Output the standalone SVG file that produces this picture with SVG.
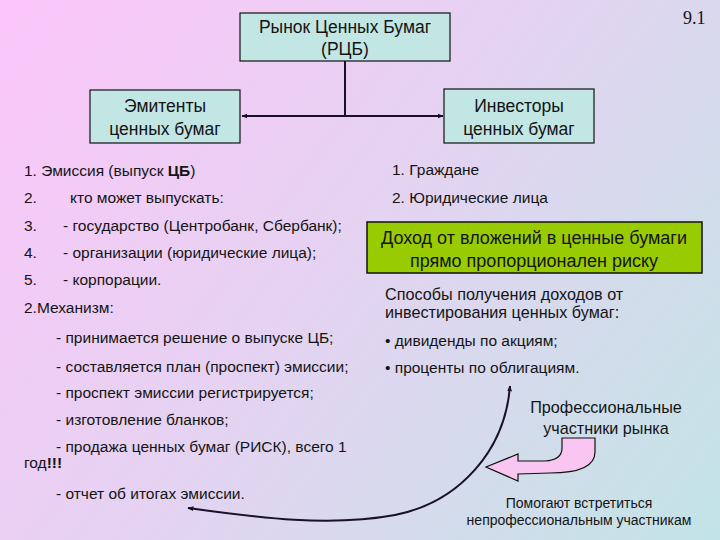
<svg xmlns="http://www.w3.org/2000/svg" width="720" height="540" viewBox="0 0 720 540">
<defs>
<linearGradient id="bg" x1="0" y1="0" x2="720" y2="540" gradientUnits="userSpaceOnUse">
<stop offset="0" stop-color="#FCC6FA"/>
<stop offset="0.45" stop-color="#E6D2F2"/>
<stop offset="1" stop-color="#C2E4E6"/>
</linearGradient>
<marker id="ah" viewBox="0 0 10 10" refX="9" refY="5" markerWidth="6" markerHeight="6" orient="auto-start-reverse" markerUnits="userSpaceOnUse">
<path d="M0,1 L10,5 L0,9 Z" fill="#1a1028"/>
</marker>
<style>
text{font-family:"Liberation Sans",Arial,sans-serif;fill:#141414;font-size:15.5px}
.box{fill:#C2E6E4;stroke:#111;stroke-width:1.2}
.bt{font-size:17.5px;text-anchor:middle}
.c{text-anchor:middle}
.g{font-size:18px}
.m{font-size:16.2px}
.s{font-size:14px}
.ln{fill:none;stroke:#1a1028;stroke-width:2}
</style>
</defs>
<rect width="720" height="540" fill="url(#bg)"/>
<text x="683" y="24" style="font-family:'Liberation Serif','Times New Roman',serif;font-size:18px">9.1</text>

<g id="connectors">
<line class="ln" x1="345" y1="61" x2="345" y2="116"/>
<line class="ln" x1="345" y1="116" x2="242" y2="116" marker-end="url(#ah)"/>
<line class="ln" x1="345" y1="116" x2="443" y2="116" marker-end="url(#ah)"/>
<path class="ln" stroke-width="1.8" d="M188,508 C260,518 330,527 395,515 C460,502 505,450 510,386" marker-start="url(#ah)" marker-end="url(#ah)"/>
</g>

<g id="rcb">
<rect class="box" x="240" y="13" width="210" height="48"/>
<text class="bt" x="345" y="33">Рынок Ценных Бумаг</text>
<text class="bt" x="345" y="55">(РЦБ)</text>
</g>
<g id="emitents">
<rect class="box" x="90" y="90" width="150" height="53"/>
<text class="bt" x="165" y="112">Эмитенты</text>
<text class="bt" x="165" y="135">ценных бумаг</text>
</g>
<g id="investors">
<rect class="box" x="444" y="89" width="150" height="54"/>
<text class="bt" x="519" y="112">Инвесторы</text>
<text class="bt" x="519" y="135">ценных бумаг</text>
</g>

<g id="emission">
<text x="24" y="176">1. Эмиссия (выпуск <tspan font-weight="bold">ЦБ</tspan>)</text>
<text x="24" y="203">2.</text><text x="70" y="203">кто может выпускать:</text>
<text x="24" y="231">3.</text><text x="63" y="231">- государство (Центробанк, Сбербанк);</text>
<text x="24" y="258">4.</text><text x="63" y="258">- организации (юридические лица);</text>
<text x="24" y="285">5.</text><text x="63" y="285">- корпорации.</text>
<text x="24" y="313">2.Механизм:</text>
<text x="56" y="343">- принимается решение о выпуске ЦБ;</text>
<text x="56" y="372">- составляется план (проспект) эмиссии;</text>
<text x="56" y="398">- проспект эмиссии регистрируется;</text>
<text x="56" y="425">- изготовление бланков;</text>
<text x="56" y="452">- продажа ценных бумаг (РИСК), всего 1</text>
<text x="24" y="468">год<tspan font-weight="bold">!!!</tspan></text>
<text x="56" y="499">- отчет об итогах эмиссии.</text>
</g>

<g id="investors-list">
<text x="392" y="175">1. Граждане</text>
<text x="392" y="203">2. Юридические лица</text>
</g>

<g id="risk">
<rect x="367" y="222" width="335" height="51" fill="#99CC00" stroke="#111" stroke-width="1.5"/>
<text class="bt g" x="534" y="244">Доход от вложений в ценные бумаги</text>
<text class="bt g" x="534" y="267">прямо пропорционален риску</text>
</g>

<g id="income">
<text class="m" x="385" y="300">Способы получения доходов от</text>
<text class="m" x="385" y="318">инвестирования ценных бумаг:</text>
<text x="385" y="346">• дивиденды по акциям;</text>
<text x="385" y="373">• проценты по облигациям.</text>
</g>

<g id="professionals">
<text class="c m" x="606" y="413">Профессиональные</text>
<text class="c m" x="606" y="434">участники рынка</text>
<path d="M562,438 L595,438 L595,452 Q595,473 550,473 L518,474 L518,481 L486,467 L518,454 L518,461 L545,461 Q562,460 562,448 Z" fill="#F8C6F0" stroke="#111" stroke-width="1.2"/>
</g>

<g id="helper">
<text class="c s" x="579" y="508">Помогают встретиться</text>
<text class="c s" x="579" y="525">непрофессиональным участникам</text>
</g>
</svg>
